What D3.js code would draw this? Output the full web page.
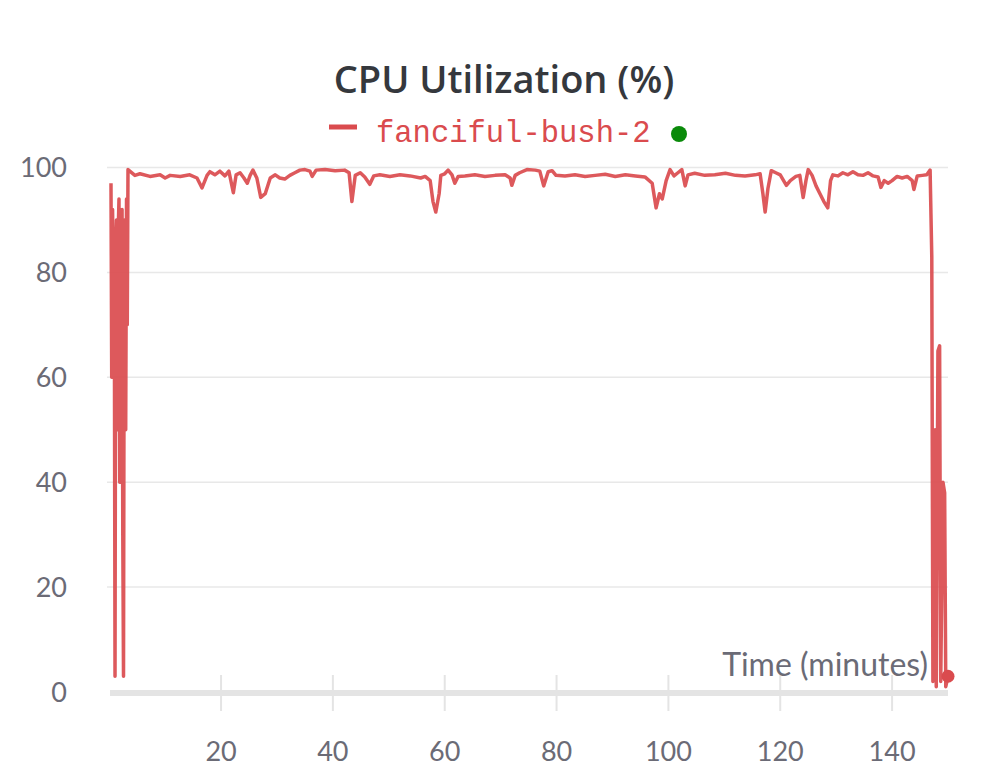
<!DOCTYPE html>
<html>
<head>
<meta charset="utf-8">
<script src="https://cdn.jsdelivr.net/npm/d3@7"></script>
<style>
  body { margin: 0; background: #fff; }
  svg { display: block; }
  .tick-label { font-family: "Lato", "Open Sans", sans-serif; fill: #6b6b76; }
</style>
</head>
<body>
<div id="chart"></div>
<script>
// run name + chart title
const chartTitle = "CPU Utilization (%)";
const runName = "fanciful-bush-2";
const xLabel = "Time (minutes)";

// sample times (minutes) and cpu values (%)
const minutes = [
  0.32, 0.45, 0.6, 0.77, 0.9, 1.04, 1.17, 1.3, 1.45, 1.57, 1.75, 1.88, 2.0,
  2.15, 2.3, 2.43, 2.56, 2.7, 2.83, 2.95, 3.1, 3.23, 3.36,
  4.6, 5.5, 7.3, 9.1, 10, 10.9, 12.7, 14.4, 15.7, 16.6, 17.5, 18, 18.9, 19.8,
  20.7, 21.4, 22.2, 22.7, 23.4, 24.1, 24.7, 25.2, 25.7, 26.4, 27.1, 27.9, 28.8,
  29.7, 30.5, 31.4, 32.3, 33.2, 34.1, 35, 35.9, 36.3, 37, 38.6, 40.4, 42.1,
  42.9, 43.4, 44, 44.9, 45.7, 46.6, 47.3, 48.4, 50.2, 52, 53.8, 55.7,
  56.5, 57.4, 57.9, 58.4, 59, 59.3, 60, 60.6, 61.3, 61.8, 62.4, 63.6, 65.4,
  67.2, 69, 70.8, 71.7, 72, 72.6, 73.4, 74.7, 76.2, 77, 77.7, 78.5, 79.2,
  79.9, 81.5, 83.3, 85.1, 86.9, 88.7, 90.5, 92.3, 94.1, 95.8, 97.1, 97.8,
  98.4, 98.9, 99.6, 100.3, 101, 101.7, 102.4, 103, 103.5, 104.7, 106.5,
  108.3, 110.2, 112, 113.7, 115.5, 116.4, 116.9, 117.3, 117.8, 118.4, 119.2,
  120, 120.6, 121.1, 121.8, 122.8, 123.5, 124.1, 124.6, 125, 125.7, 126.4,
  127.1, 127.8, 128.5, 129, 129.4, 130.3, 131.2, 132.1, 133, 133.9, 134.8,
  135.7, 136.6, 137.5, 138, 138.6, 139.3, 140, 140.9, 141.8, 142.7, 143.6,
  143.9, 144.5, 145.4, 146.2, 146.8,
  147.1, 147.3, 147.7, 147.9, 148.2, 148.5, 148.7, 149.1, 149.4, 149.6, 150
];
const cpuValues = [
  97, 60, 92, 75, 88, 3, 85, 90, 50, 86, 94, 40, 92,
  60, 92, 30, 3, 90, 80, 50, 94, 70, 99.6,
  98.5, 98.8, 98.3, 98.6, 98.0, 98.5, 98.3, 98.6, 98.0, 96.1, 98.5, 99.2, 98.6, 99.3,
  98.4, 99.3, 95.2, 98.6, 99.0, 98.0, 97.0, 98.5, 99.5, 98.0, 94.3, 95.0, 98.0,
  98.6, 98.0, 97.8, 98.5, 99.0, 99.5, 99.6, 99.3, 98.3, 99.5, 99.6, 99.4, 99.5,
  99.0, 93.5, 98.5, 99.0, 98.2, 96.8, 98.4, 98.6, 98.3, 98.6, 98.4, 98.0,
  98.3, 97.5, 93.5, 91.5, 95, 98.5, 98.8, 99.5, 98.6, 97.0, 98.3, 98.4, 98.6,
  98.3, 98.5, 98.6, 98.0, 96.6, 98.5, 99.0, 99.6, 99.5, 99.3, 96.5, 99.2, 99.4,
  98.5, 98.4, 98.6, 98.3, 98.5, 98.7, 98.3, 98.6, 98.4, 98.2, 97.0, 92.3,
  95, 94, 97.5, 99.6, 98.4, 99.0, 99.6, 96.5, 98.6, 98.9, 98.5,
  98.6, 98.9, 98.5, 98.4, 98.6, 98.8, 95, 91.5, 96, 99.4, 99.0,
  98.6, 97.5, 96.6, 97.5, 98.3, 98.5, 94.3, 97.5, 99.6, 98.5, 96.5,
  95, 93.5, 92.3, 97.5, 98.6, 98.4, 99.0, 98.6, 99.2, 98.6, 98.5,
  99.0, 98.4, 98.2, 96.2, 97.5, 97.0, 97.5, 98.3, 98.0, 98.3, 97.5,
  95.8, 98.4, 98.5, 98.6, 99.5,
  83, 2, 50, 1, 65, 66, 2, 40, 38, 1, 3
];
const xTicks = [20, 40, 60, 80, 100, 120, 140];
const yTicks = [0, 20, 40, 60, 80, 100];

const lineColor = "#da4b4e";
const data = minutes.map((t, i) => ({t: t, v: cpuValues[i]}));

const W = 1008, H = 783;
const svg = d3.select("#chart").append("svg")
  .attr("width", W).attr("height", H);

const x = d3.scaleLinear().domain([0, 150]).range([109.2, 948]);
const y = d3.scaleLinear().domain([0, 100]).range([692, 167.5]);

// horizontal grid
svg.append("g").selectAll("line")
  .data(yTicks.filter(d => d > 0))
  .join("line")
  .attr("x1", 107).attr("x2", 948)
  .attr("y1", d => y(d)).attr("y2", d => y(d))
  .attr("stroke", "#e8e8e8").attr("stroke-width", 1.5);

// y labels
svg.append("g").selectAll("text")
  .data(yTicks)
  .join("text")
  .attr("class", "tick-label")
  .attr("x", 67).attr("y", d => y(d))
  .attr("dy", "0.36em")
  .attr("text-anchor", "end")
  .style("font-size", "27px")
  .text(d => d);

// x axis band + ticks
svg.append("line")
  .attr("x1", 110).attr("x2", 948)
  .attr("y1", 693).attr("y2", 693)
  .attr("stroke", "#e4e4e4").attr("stroke-width", 6);

svg.append("g").selectAll("line")
  .data(xTicks)
  .join("line")
  .attr("x1", d => x(d)).attr("x2", d => x(d))
  .attr("y1", 675).attr("y2", 711)
  .attr("stroke", "#e4e4e4").attr("stroke-width", 2);

svg.append("g").selectAll("text")
  .data(xTicks)
  .join("text")
  .attr("class", "tick-label")
  .attr("x", d => x(d)).attr("y", 761)
  .attr("text-anchor", "middle")
  .style("font-size", "27px")
  .text(d => d);

svg.append("text")
  .attr("class", "tick-label")
  .attr("x", 928).attr("y", 676)
  .attr("text-anchor", "end")
  .style("font-size", "32px")
  .text(xLabel);

// the series
const line = d3.line()
  .x(d => x(d.t))
  .y(d => y(d.v));

svg.append("path")
  .datum(data)
  .attr("d", line)
  .attr("fill", "none")
  .attr("stroke", lineColor)
  .attr("stroke-opacity", 0.92)
  .attr("stroke-width", 3.5)
  .attr("stroke-linejoin", "round");

const last = data[data.length - 1];
svg.append("circle")
  .attr("cx", x(last.t)).attr("cy", y(last.v))
  .attr("r", 6.5).attr("fill", lineColor);

// title
svg.append("text")
  .attr("x", 504).attr("y", 93)
  .attr("text-anchor", "middle")
  .style("font-family", "'Open Sans', 'Noto Sans', sans-serif")
  .style("font-weight", 600)
  .style("font-size", "38px")
  .attr("fill", "#35383d")
  .text(chartTitle);

// legend
svg.append("line")
  .attr("x1", 329).attr("x2", 357)
  .attr("y1", 127).attr("y2", 127)
  .attr("stroke", lineColor).attr("stroke-width", 5);

svg.append("text")
  .attr("x", 376).attr("y", 142)
  .style("font-family", "'Liberation Mono', 'DejaVu Sans Mono', monospace")
  .style("font-size", "30.5px")
  .attr("fill", lineColor)
  .text(runName);

svg.append("circle")
  .attr("cx", 679).attr("cy", 134)
  .attr("r", 8).attr("fill", "#0a8a0a");
</script>
</body>
</html>
